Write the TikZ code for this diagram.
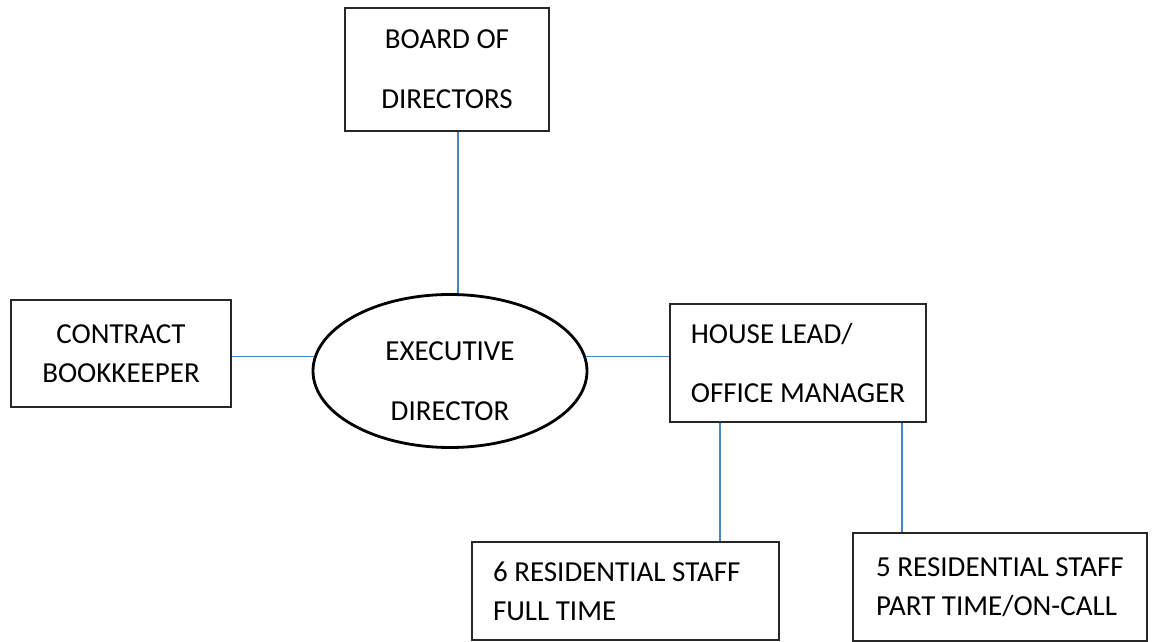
\documentclass[tikz,border=0pt]{standalone}
\usepackage{fontspec}
\setmainfont{Carlito}
\usetikzlibrary{shapes,positioning}
\definecolor{linkblue}{RGB}{70,135,195}
\definecolor{boxline}{RGB}{40,40,40}
\tikzset{
  box/.style={draw=boxline, line width=1.1pt, inner sep=0pt, font=\fontsize{16.5}{22}\selectfont},
  widebox/.style={box, font=\fontsize{16.5}{34}\selectfont},
  link/.style={draw=linkblue, line width=0.9pt}
}
\begin{document}
\begin{tikzpicture}
    % Canvas
    \useasboundingbox (0,0) rectangle (23.08,12.84);

    % Boxes
    \node[widebox, align=center, minimum width=4.08cm, minimum height=2.46cm] (board) at (8.94,11.45) {BOARD OF\\DIRECTORS};
    \node[box, align=center, minimum width=4.4cm, minimum height=2.14cm] (keeper) at (2.42,5.77) {CONTRACT\\BOOKKEEPER};
    \node[widebox, ellipse, draw=black, line width=1.6pt, align=center, text height=56pt,
          minimum width=5.48cm, minimum height=3.06cm] (exec) at (9.0,5.42) {EXECUTIVE\\DIRECTOR};
    \node[widebox, align=left, minimum width=5.12cm, minimum height=2.36cm] (house) at (15.96,5.58) {HOUSE LEAD/\\OFFICE MANAGER};
    \node[box, align=flush left, text width=5.3cm, minimum width=6.14cm, minimum height=1.96cm] (fulltime) at (12.51,1.02) {6 RESIDENTIAL STAFF\\FULL TIME};
    \node[box, align=left, minimum width=5.88cm, minimum height=2.16cm] (oncall) at (20.0,1.10) {5 RESIDENTIAL STAFF\\PART TIME/ON-CALL};

    % Links
    \draw[link] (exec.84 |- board.south) -- (exec.84);
    \draw[link] (exec.174 -| keeper.east) -- (exec.174);
    \draw[link] (exec.6) -- (exec.6 -| house.west);
    \draw[link] ([xshift=1.02cm]house.south west) -- ([xshift=1.02cm]house.south west |- fulltime.north);
    \draw[link] ([xshift=-0.5cm]house.south east) -- ([xshift=-0.5cm]house.south east |- oncall.north);
\end{tikzpicture}
\end{document}
